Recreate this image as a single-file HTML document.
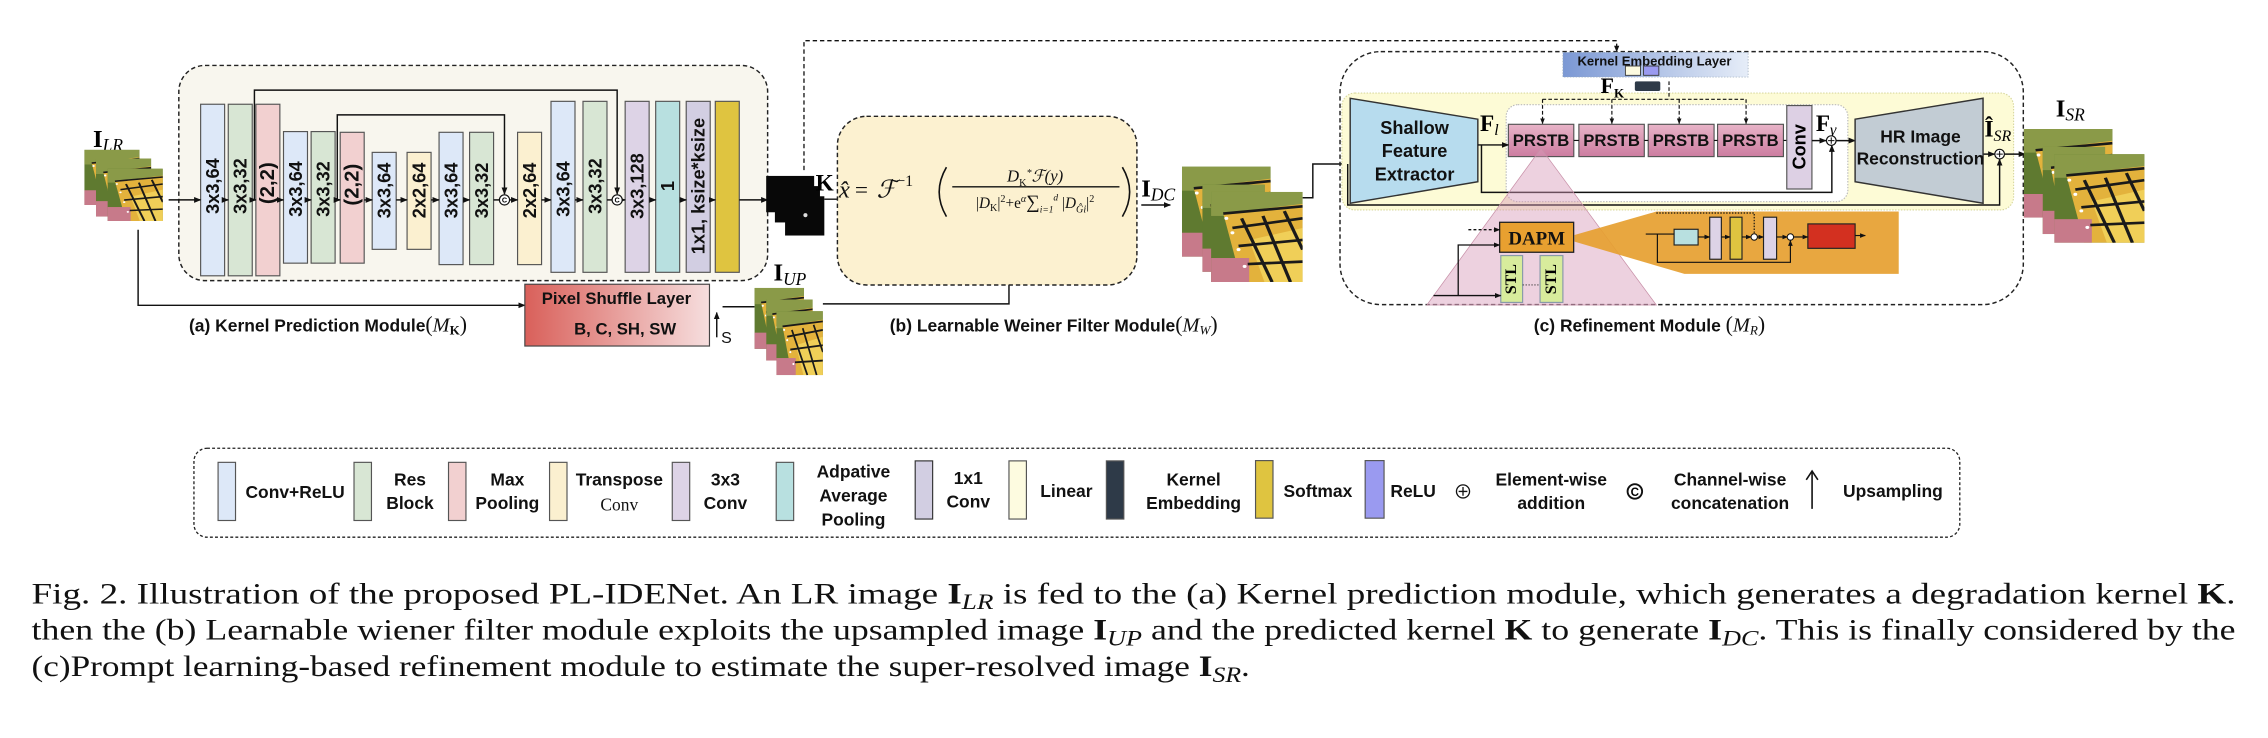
<!DOCTYPE html>
<html><head><meta charset="utf-8"><style>
html,body{margin:0;padding:0;background:#fff;}
svg{display:block;}
.b{font-family:"Liberation Sans",sans-serif;font-weight:bold;}
.s{font-family:"Liberation Serif",serif;}
</style></head><body>
<svg width="2268" height="738" viewBox="0 0 1560 507.6" preserveAspectRatio="none" xmlns="http://www.w3.org/2000/svg">
<defs>
<marker id="ar" viewBox="0 0 10 10" refX="9" refY="5" markerWidth="5" markerHeight="5" orient="auto"><path d="M0,1 L10,5 L0,9 z" fill="#111"/></marker>
<symbol id="bf" viewBox="0 0 60 75" preserveAspectRatio="none">
<rect width="60" height="75" fill="#5f7a30"/>
<rect x="0" y="0" width="60" height="20" fill="#8a9a48"/>
<polygon points="8,18 60,10 60,75 20,75" fill="#e3b23c"/>
<polygon points="25,40 60,30 60,75 35,75" fill="#f0cf58"/>
<rect x="0" y="55" width="25" height="20" fill="#c77a8a"/>
<g stroke="#1a1a1a" stroke-width="2.2" fill="none">
<path d="M8,18 L60,12"/><path d="M14,30 L60,22"/><path d="M18,45 L60,40"/><path d="M24,60 L60,58"/>
<path d="M20,22 L40,75"/><path d="M34,20 L52,75"/><path d="M48,16 L60,48"/>
</g>
<g fill="#fff"><circle cx="10" cy="22" r="1.3"/><circle cx="14" cy="34" r="1.3"/><circle cx="18" cy="48" r="1.3"/><circle cx="22" cy="62" r="1.3"/></g>
</symbol>
<linearGradient id="psg" x1="0" x2="1"><stop offset="0" stop-color="#d9605a"/><stop offset="1" stop-color="#f6dede"/></linearGradient>
<linearGradient id="keg" x1="0" x2="1"><stop offset="0" stop-color="#7b98d4"/><stop offset="1" stop-color="#e6edf8"/></linearGradient>
<linearGradient id="prg" x1="0" y1="0" x2="0" y2="1"><stop offset="0" stop-color="#e8b4c8"/><stop offset="1" stop-color="#cc7ca0"/></linearGradient>
</defs>

<!-- ===== (a) ===== -->
<rect x="123" y="45" width="405" height="148" rx="18" fill="#f8f6ee" stroke="#222" stroke-width="1" stroke-dasharray="3,2"/>
<g stroke="#555" stroke-width="0.8">
<rect x="138" y="71.7" width="16.5" height="118" fill="#dde8f8"/>
<rect x="157" y="71.7" width="16.5" height="118" fill="#d8e6d4"/>
<rect x="176" y="71.7" width="16.5" height="118" fill="#f2d0d0"/>
<rect x="195" y="90.5" width="16.5" height="90.5" fill="#dde8f8"/>
<rect x="214" y="90.5" width="16.5" height="90.5" fill="#d8e6d4"/>
<rect x="234" y="91" width="16.5" height="90" fill="#f2d0d0"/>
<rect x="256" y="104.8" width="16.5" height="66.7" fill="#dde8f8"/>
<rect x="280" y="104.8" width="16.5" height="66.7" fill="#fbf0d0"/>
<rect x="302" y="91" width="16.5" height="91" fill="#dde8f8"/>
<rect x="323" y="91" width="16.5" height="91" fill="#d8e6d4"/>
<rect x="356" y="91" width="16.5" height="91" fill="#fbf0d0"/>
<rect x="379" y="69.7" width="16.5" height="117.6" fill="#dde8f8"/>
<rect x="401" y="69.7" width="16.5" height="117.6" fill="#d8e6d4"/>
<rect x="430" y="69.7" width="16.5" height="117.6" fill="#ddd3e6"/>
<rect x="451" y="69.7" width="16.5" height="117.6" fill="#b8e0e0"/>
<rect x="472" y="69.7" width="16.5" height="117.6" fill="#d2cee2"/>
<rect x="492" y="69.7" width="16.5" height="117.6" fill="#dfc440"/>
</g>
<g class="b" font-size="12.5" fill="#111" text-anchor="middle" dominant-baseline="central">
<text transform="translate(146.5,128) rotate(-90)">3x3,64</text>
<text transform="translate(165.5,128) rotate(-90)">3x3,32</text>
<text transform="translate(184.5,126) rotate(-90)" font-size="14">(2,2)</text>
<text transform="translate(203.5,130) rotate(-90)">3x3,64</text>
<text transform="translate(222.5,130) rotate(-90)">3x3,32</text>
<text transform="translate(242.5,127) rotate(-90)" font-size="14">(2,2)</text>
<text transform="translate(264.5,131) rotate(-90)">3x3,64</text>
<text transform="translate(288.5,131) rotate(-90)">2x2,64</text>
<text transform="translate(310.5,131) rotate(-90)">3x3,64</text>
<text transform="translate(331.5,131) rotate(-90)">3x3,32</text>
<text transform="translate(364.5,131) rotate(-90)">2x2,64</text>
<text transform="translate(387.5,130) rotate(-90)">3x3,64</text>
<text transform="translate(409.5,128) rotate(-90)">3x3,32</text>
<text transform="translate(438.5,128) rotate(-90)">3x3,128</text>
<text transform="translate(459.5,128) rotate(-90)">1</text>
<text transform="translate(480.5,128) rotate(-90)">1x1, ksize*ksize</text>
</g>
<g stroke="#111" stroke-width="1" fill="none" marker-end="url(#ar)">
<line x1="116" y1="137.5" x2="138" y2="137.5"/>
<line x1="154.5" y1="137.5" x2="157" y2="137.5"/>
<line x1="173.5" y1="137.5" x2="176" y2="137.5"/>
<line x1="192.5" y1="137.5" x2="195" y2="137.5"/>
<line x1="211.5" y1="137.5" x2="214" y2="137.5"/>
<line x1="230.5" y1="137.5" x2="234" y2="137.5"/>
<line x1="250.5" y1="137.5" x2="256" y2="137.5"/>
<line x1="272.5" y1="137.5" x2="280" y2="137.5"/>
<line x1="296.5" y1="137.5" x2="302" y2="137.5"/>
<line x1="318.5" y1="137.5" x2="323" y2="137.5"/>
<line x1="350.5" y1="137.5" x2="356" y2="137.5"/>
<line x1="372.5" y1="137.5" x2="379" y2="137.5"/>
<line x1="395.5" y1="137.5" x2="401" y2="137.5"/>
<line x1="427.5" y1="137.5" x2="430" y2="137.5"/>
<line x1="446.5" y1="137.5" x2="451" y2="137.5"/>
<line x1="467.5" y1="137.5" x2="472" y2="137.5"/>
<line x1="488.5" y1="137.5" x2="492" y2="137.5"/>
<line x1="508.5" y1="137.5" x2="528" y2="137.5"/>
<polyline points="175,137 175,62 424.5,62 424.5,133.5"/>
<polyline points="232,137 232,79 347,79 347,133.5"/>
</g>
<line x1="339.5" y1="137.5" x2="343.5" y2="137.5" stroke="#111"/>
<line x1="417.5" y1="137.5" x2="421" y2="137.5" stroke="#111"/>
<g fill="#fff" stroke="#111" stroke-width="0.8"><circle cx="347" cy="137.5" r="3.5"/><circle cx="424.5" cy="137.5" r="3.5"/></g>
<g font-family="Liberation Sans" font-size="5" font-weight="bold" text-anchor="middle"><text x="347" y="139.3">C</text><text x="424.5" y="139.3">C</text></g>

<!-- I_LR -->
<text x="64" y="101" class="s" font-weight="bold" font-size="17">I<tspan font-style="italic" font-weight="normal" font-size="12" dy="3">LR</tspan></text>
<use href="#bf" x="58" y="103" width="38" height="38"/>
<use href="#bf" x="66" y="109" width="38" height="40"/>
<use href="#bf" x="74" y="116" width="38" height="36"/>
<polyline points="95,158 95,210 361,210" fill="none" stroke="#111" stroke-width="1" marker-end="url(#ar)"/>
<!-- Pixel shuffle -->
<rect x="361" y="195.5" width="127" height="42.5" fill="url(#psg)" stroke="#444" stroke-width="0.8"/>
<text x="424" y="209" class="b" font-size="11.5" text-anchor="middle" fill="#111">Pixel Shuffle Layer</text>
<text x="430" y="230" class="b" font-size="11.5" text-anchor="middle" fill="#111">B, C, SH, SW</text>
<line x1="493" y1="232" x2="493" y2="215" stroke="#111" stroke-width="1" marker-end="url(#ar)"/>
<text x="496" y="236" font-family="Liberation Sans" font-size="11" fill="#111">S</text>
<line x1="497" y1="211" x2="519" y2="211" stroke="#111" stroke-width="1"/>
<text x="130" y="228" class="b" font-size="12" fill="#111">(a) Kernel Prediction Module<tspan class="s" font-weight="normal" font-size="15">(</tspan><tspan class="s" font-style="italic" font-weight="normal" font-size="14">M</tspan><tspan class="s" font-size="9" dy="2">K</tspan><tspan class="s" font-weight="normal" font-size="15" dy="-2">)</tspan></text>

<!-- kernel images -->
<rect x="527" y="121" width="33" height="25" fill="#080808"/>
<rect x="533" y="128" width="31" height="25" fill="#080808"/>
<rect x="540" y="135" width="27" height="27" fill="#080808"/>
<circle cx="554" cy="148" r="1.4" fill="#ddd"/>
<text x="561" y="131" class="s" font-weight="bold" font-size="16">K</text>
<line x1="567" y1="137" x2="595" y2="137" stroke="#111" stroke-width="1" marker-end="url(#ar)"/>
<polyline points="553,117 553,28 1112,28 1112,35.5" fill="none" stroke="#111" stroke-width="0.9" stroke-dasharray="3,2" marker-end="url(#ar)"/>

<!-- I_UP -->
<text x="532" y="193" class="s" font-weight="bold" font-size="17">I<tspan font-style="italic" font-weight="normal" font-size="12" dy="3">UP</tspan></text>
<use href="#bf" x="519" y="198" width="34" height="42"/>
<use href="#bf" x="527" y="206" width="32" height="42"/>
<use href="#bf" x="534" y="214" width="32" height="44"/>
<polyline points="566,209 694,209 694,177" fill="none" stroke="#111" stroke-width="1" marker-end="url(#ar)"/>

<!-- (b) -->
<rect x="576" y="80" width="206" height="116" rx="20" fill="#fcf1d0" stroke="#222" stroke-width="1" stroke-dasharray="3,2"/>
<g class="s" fill="#111">
<text x="577" y="136" font-size="17" font-style="italic">x̂</text>
<text x="588" y="136" font-size="16">=</text>
<text x="603" y="136" font-size="17" font-style="italic">ℱ<tspan font-size="11" font-style="normal" dy="-8">−1</tspan></text>
<path d="M651,115 Q641,132 651,149" fill="none" stroke="#111" stroke-width="1.1"/>
<path d="M772,115 Q782,132 772,149" fill="none" stroke="#111" stroke-width="1.1"/>
<line x1="655" y1="128.5" x2="770" y2="128.5" stroke="#111" stroke-width="1"/>
<text x="712" y="125" font-size="11.5" text-anchor="middle" font-style="italic">D<tspan font-size="7" dy="3" font-style="normal">K</tspan><tspan font-size="7" dy="-7">*</tspan><tspan dy="4">ℱ(y)</tspan></text>
<text x="712" y="143" font-size="10.5" text-anchor="middle">|<tspan font-style="italic">D</tspan><tspan font-size="7" dy="2">K</tspan><tspan dy="-2">|</tspan><tspan font-size="7" dy="-4">2</tspan><tspan dy="4">+e</tspan><tspan font-size="7" dy="-4" font-style="italic">α</tspan><tspan dy="4" font-size="13">∑</tspan><tspan font-size="6.5" dy="3" font-style="italic">i=1</tspan><tspan font-size="6.5" dy="-8" font-style="italic">d</tspan><tspan dy="5"> |</tspan><tspan font-style="italic">D</tspan><tspan font-size="7" dy="3" font-style="italic">Ĝi</tspan><tspan dy="-3">|</tspan><tspan font-size="7" dy="-4">2</tspan></text>
</g>
<text x="785" y="135" class="s" font-weight="bold" font-size="17">I<tspan font-style="italic" font-weight="normal" font-size="12" dy="3">DC</tspan></text>
<line x1="785" y1="141" x2="805" y2="141" stroke="#111" stroke-width="1" marker-end="url(#ar)"/>
<text x="612" y="228" class="b" font-size="12" fill="#111">(b) Learnable Weiner Filter  Module<tspan class="s" font-weight="normal" font-size="15">(</tspan><tspan class="s" font-style="italic" font-weight="normal" font-size="14">M</tspan><tspan class="s" font-style="italic" font-weight="normal" font-size="9" dy="2">W</tspan><tspan class="s" font-weight="normal" font-size="15" dy="-2">)</tspan></text>
<use href="#bf" x="813" y="114.6" width="61" height="62"/>
<use href="#bf" x="827" y="127" width="43" height="60"/>
<use href="#bf" x="833" y="132" width="63" height="62"/>
<polyline points="896,136 903,136 903,112.8 928,112.8" fill="none" stroke="#111" stroke-width="1" marker-end="url(#ar)"/>

<!-- (c) -->
<rect x="921.7" y="35.5" width="470" height="174" rx="28" fill="none" stroke="#222" stroke-width="1" stroke-dasharray="3,2"/>
<rect x="923" y="64" width="462" height="80.4" rx="9" fill="#fdfbd6" stroke="#d8d8a0" stroke-width="0.8" stroke-dasharray="1,1"/>
<polygon points="928.7,67.6 1016.5,82 1016.5,125 928.7,139.8" fill="#b7dcee" stroke="#333" stroke-width="1"/>
<g class="b" font-size="12.5" text-anchor="middle" fill="#111"><text x="973" y="92">Shallow</text><text x="973" y="108">Feature</text><text x="973" y="124">Extractor</text></g>
<text x="1018" y="90" class="s" font-weight="bold" font-size="16">F<tspan font-style="italic" font-weight="normal" font-size="11" dy="3">l</tspan></text>
<rect x="1036" y="72" width="235" height="66.7" rx="8" fill="#fff" stroke="#bbb" stroke-width="0.8" stroke-dasharray="1,1"/>
<g stroke="#555" stroke-width="0.8" fill="url(#prg)">
<rect x="1037.5" y="85.5" width="45" height="22.2"/><rect x="1086" y="85.5" width="45" height="22.2"/><rect x="1133.7" y="85.5" width="45.3" height="22.2"/><rect x="1181.4" y="85.5" width="45.3" height="22.2"/>
</g>
<g class="b" font-size="11.5" text-anchor="middle" fill="#111"><text x="1060" y="100.5">PRSTB</text><text x="1108.5" y="100.5">PRSTB</text><text x="1156.3" y="100.5">PRSTB</text><text x="1204" y="100.5">PRSTB</text></g>
<g stroke="#111" stroke-width="0.8"><line x1="1082.5" y1="96.6" x2="1086" y2="96.6"/><line x1="1131" y1="96.6" x2="1133.7" y2="96.6"/><line x1="1179" y1="96.6" x2="1181.4" y2="96.6"/><line x1="1226.7" y1="96.6" x2="1229" y2="96.6"/></g>
<rect x="1229" y="72.6" width="17.3" height="57.4" fill="#ddd0e4" stroke="#555" stroke-width="0.8"/>
<text transform="translate(1237.6,101) rotate(-90)" class="b" font-size="12.5" text-anchor="middle" dominant-baseline="central">Conv</text>
<text x="1249" y="90" class="s" font-weight="bold" font-size="16">F<tspan font-style="italic" font-weight="normal" font-size="11" dy="3">γ</tspan></text>
<g stroke="#111" stroke-width="1" fill="none">
<line x1="1016.5" y1="99.7" x2="1037.5" y2="99.7" marker-end="url(#ar)"/>
<polyline points="1019,99.7 1019,132.3 1260,132.3 1260,100" marker-end="url(#ar)"/>
<line x1="1246.3" y1="96.7" x2="1256" y2="96.7" marker-end="url(#ar)"/>
<line x1="1263" y1="96.7" x2="1276" y2="96.7" marker-end="url(#ar)"/>
<polyline points="927,112.8 927,141 1375.4,141 1375.4,109.5" marker-end="url(#ar)"/>
<line x1="1364" y1="106" x2="1372" y2="106" marker-end="url(#ar)"/>
<line x1="1379" y1="106" x2="1393" y2="106" marker-end="url(#ar)"/>
</g>
<g fill="#fff" stroke="#111" stroke-width="0.8"><circle cx="1259.6" cy="96.7" r="3.3"/><circle cx="1375.4" cy="106" r="3.3"/></g>
<g stroke="#111" stroke-width="0.7"><path d="M1257.4,96.7h4.4M1259.6,94.5v4.4M1373.2,106h4.4M1375.4,103.8v4.4"/></g>
<polygon points="1276,82 1364,67.6 1364,139.8 1276,125" fill="#c2ccd4" stroke="#333" stroke-width="1"/>
<g class="b" font-size="12" text-anchor="middle" fill="#111"><text x="1321" y="98">HR Image</text><text x="1321" y="113">Reconstruction</text></g>
<text x="1365" y="94" class="s" font-weight="bold" font-size="16">Î<tspan font-style="italic" font-weight="normal" font-size="11" dy="3">SR</tspan></text>
<text x="1414" y="80" class="s" font-weight="bold" font-size="17">I<tspan font-style="italic" font-weight="normal" font-size="12" dy="3">SR</tspan></text>
<use href="#bf" x="1392" y="88.7" width="61" height="61"/>
<use href="#bf" x="1405" y="101" width="43" height="60"/>
<use href="#bf" x="1413" y="106" width="62" height="61"/>

<!-- kernel embedding layer -->
<rect x="1075" y="36" width="127.4" height="17" fill="url(#keg)" stroke="#9ab" stroke-width="0.5" stroke-dasharray="1,1"/>
<text x="1138" y="45" class="b" font-size="9" text-anchor="middle" fill="#111" font-weight="normal">Kernel Embedding Layer</text>
<rect x="1118" y="45.4" width="10.4" height="6.4" fill="#fdfbe0" stroke="#333" stroke-width="0.6"/>
<rect x="1130.5" y="45.4" width="10.5" height="6.4" fill="#9a9af0" stroke="#333" stroke-width="0.6"/>
<text x="1101" y="64" class="s" font-weight="bold" font-size="15">F<tspan font-size="9" dy="3">K</tspan></text>
<rect x="1124.5" y="56" width="17.5" height="6.6" rx="1.2" fill="#2e3a48"/>
<g stroke="#111" stroke-width="0.8" fill="none" stroke-dasharray="2.5,1.5">
<line x1="1148" y1="56" x2="1148" y2="68.3"/>
<line x1="1061" y1="68.3" x2="1201" y2="68.3"/>
<line x1="1061" y1="68.3" x2="1061" y2="85" marker-end="url(#ar)"/>
<line x1="1108.7" y1="68.3" x2="1108.7" y2="85" marker-end="url(#ar)"/>
<line x1="1155" y1="68.3" x2="1155" y2="85" marker-end="url(#ar)"/>
<line x1="1201" y1="68.3" x2="1201" y2="85" marker-end="url(#ar)"/>
</g>

<!-- pink triangle -->
<polygon points="1060,102 1139.3,209.8 981.4,209.8" fill="#d89ab8" fill-opacity="0.45" stroke="#c890a8" stroke-width="0.5"/>
<polygon points="1083,161.6 1139.3,145.5 1306,145.5 1306,188.4 1158.6,188.4 1083,166.2" fill="#e6a030" fill-opacity="0.92"/>
<rect x="1031.5" y="152.9" width="50.9" height="20.6" fill="#e8a030" stroke="#222" stroke-width="0.9"/>
<text x="1057" y="168" class="s" font-weight="bold" font-size="13" text-anchor="middle" fill="#111">DAPM</text>
<g stroke="#222" stroke-width="0.8">
<rect x="1032.3" y="175.8" width="15" height="32.2" fill="#d8ec9c" stroke="#89a"/>
<rect x="1059.3" y="175.8" width="15.7" height="32.2" fill="#d8ec9c" stroke="#89a"/>
</g>
<g class="s" font-weight="bold" font-size="11" text-anchor="middle" dominant-baseline="central"><text transform="translate(1039.8,192) rotate(-90)">STL</text><text transform="translate(1067.2,192) rotate(-90)">STL</text></g>
<line x1="1047.3" y1="196" x2="1059.3" y2="196" stroke="#333" stroke-width="0.6" stroke-dasharray="1,1"/>
<g stroke="#111" stroke-width="0.9" fill="none">
<line x1="1010" y1="158" x2="1031.5" y2="158" stroke-dasharray="2,1.5" marker-end="url(#ar)"/>
<polyline points="1003,203.3 1003,168.5 1031.5,168.5" marker-end="url(#ar)"/>
<line x1="986" y1="203.3" x2="1032.3" y2="203.3" marker-end="url(#ar)"/>
</g>
<!-- DAPM detail -->
<g stroke="#222" stroke-width="0.8">
<rect x="1151.5" y="157.7" width="16.5" height="10.8" fill="#b8e0e0"/>
<rect x="1176" y="149.4" width="8" height="28.9" fill="#ddd3e6"/>
<rect x="1190" y="149.4" width="8.2" height="28.9" fill="#dfc440"/>
<rect x="1213" y="149.4" width="9" height="28.9" fill="#ddd3e6"/>
<rect x="1243.5" y="154" width="32.5" height="16.8" fill="#d33020"/>
</g>
<g stroke="#111" stroke-width="0.8" fill="none">
<line x1="1132" y1="161" x2="1151.5" y2="161"/>
<line x1="1168" y1="163" x2="1176" y2="163" marker-end="url(#ar)"/>
<line x1="1184" y1="163" x2="1190" y2="163" marker-end="url(#ar)"/>
<line x1="1198.2" y1="163" x2="1204.5" y2="163" marker-end="url(#ar)"/>
<line x1="1208.7" y1="163" x2="1213" y2="163" marker-end="url(#ar)"/>
<line x1="1222" y1="163" x2="1229.5" y2="163" marker-end="url(#ar)"/>
<line x1="1233.5" y1="163" x2="1243.5" y2="163" marker-end="url(#ar)"/>
<line x1="1276" y1="162" x2="1283" y2="162" marker-end="url(#ar)"/>
<polyline points="1140,161 1140,180.4 1231.5,180.4 1231.5,165.5" marker-end="url(#ar)"/>
<polyline points="1139.3,146.5 1206.6,146.5 1206.6,161" stroke-dasharray="1,1"/>
</g>
<g fill="#fff" stroke="#111" stroke-width="0.7"><circle cx="1206.6" cy="163" r="2.2"/><circle cx="1231.5" cy="163" r="2.2"/></g>
<text x="1055" y="228" class="b" font-size="12" fill="#111">(c) Refinement Module <tspan class="s" font-weight="normal" font-size="15">(</tspan><tspan class="s" font-style="italic" font-weight="normal" font-size="14">M</tspan><tspan class="s" font-style="italic" font-weight="normal" font-size="9" dy="2">R</tspan><tspan class="s" font-weight="normal" font-size="15" dy="-2">)</tspan></text>

<!-- ===== Legend ===== -->
<rect x="133.4" y="308.3" width="1214.6" height="61.2" rx="9" fill="none" stroke="#222" stroke-width="0.9" stroke-dasharray="2,1.5"/>
<g stroke="#555" stroke-width="0.8">
<rect x="150" y="318" width="12" height="40" fill="#dde8f8"/>
<rect x="243.5" y="318" width="12" height="40" fill="#d8e6d4"/>
<rect x="308.5" y="318" width="12" height="40" fill="#f2d0d0"/>
<rect x="378" y="318" width="12" height="40" fill="#fbf0d0"/>
<rect x="462.4" y="318" width="12" height="40" fill="#ddd3e6"/>
<rect x="533.9" y="318" width="12" height="40" fill="#b8e0e0"/>
<rect x="629.5" y="317" width="12" height="40" fill="#d2cee2" stroke="#333"/>
<rect x="694" y="317" width="12" height="40" fill="#fdfbe0"/>
<rect x="761" y="317" width="12" height="40" fill="#2e3a48"/>
<rect x="863.6" y="316.8" width="12" height="39.6" fill="#dfc440"/>
<rect x="939" y="316.8" width="13" height="39.6" fill="#9a9af0"/>
</g>
<g class="b" font-size="12" text-anchor="middle" fill="#111">
<text x="203" y="342.5">Conv+ReLU</text>
<text x="282" y="334">Res</text><text x="282" y="350">Block</text>
<text x="349" y="334">Max</text><text x="349" y="350">Pooling</text>
<text x="426" y="334">Transpose</text><text x="426" y="351" class="s" font-weight="normal">Conv</text>
<text x="499" y="334">3x3</text><text x="499" y="350">Conv</text>
<text x="587" y="328.5">Adpative</text><text x="587" y="345">Average</text><text x="587" y="361.5">Pooling</text>
<text x="666" y="333">1x1</text><text x="666" y="349">Conv</text>
<text x="733.5" y="342">Linear</text>
<text x="821" y="334">Kernel</text><text x="821" y="350">Embedding</text>
<text x="906.5" y="342">Softmax</text>
<text x="972" y="342">ReLU</text>
<text x="1067" y="334">Element-wise</text><text x="1067" y="350">addition</text>
<text x="1190" y="334">Channel-wise</text><text x="1190" y="350">concatenation</text>
<text x="1302" y="342">Upsampling</text>
</g>
<g fill="#fff" stroke="#111" stroke-width="0.9"><circle cx="1006.3" cy="338" r="4.5"/></g>
<path d="M1003.3,338h6M1006.3,335v6" stroke="#111" stroke-width="0.9"/>
<circle cx="1124.5" cy="338" r="5" fill="none" stroke="#111" stroke-width="1.3"/>
<text x="1124.5" y="341" font-family="Liberation Sans" font-weight="bold" font-size="8" text-anchor="middle">C</text>
<line x1="1246.4" y1="350" x2="1246.4" y2="325" stroke="#111" stroke-width="1.1"/>
<path d="M1242.4,330 L1246.4,324 L1250.4,330" fill="none" stroke="#111" stroke-width="1.1"/>

<!-- ===== Caption ===== -->
<g class="s" font-size="20.5" fill="#111">
<text x="21.7" y="415" textLength="1516" lengthAdjust="spacingAndGlyphs">Fig. 2.   Illustration of the proposed PL-IDENet. An LR image <tspan font-weight="bold">I</tspan><tspan font-style="italic" font-size="15" dy="4">LR</tspan><tspan dy="-4"> is fed to the (a) Kernel prediction module, which generates a degradation kernel </tspan><tspan font-weight="bold">K</tspan>.</text>
<text x="21.7" y="440" textLength="1516" lengthAdjust="spacingAndGlyphs">then the (b) Learnable wiener filter module exploits the upsampled image <tspan font-weight="bold">I</tspan><tspan font-style="italic" font-size="15" dy="4">UP</tspan><tspan dy="-4"> and the predicted kernel </tspan><tspan font-weight="bold">K</tspan> to generate <tspan font-weight="bold">I</tspan><tspan font-style="italic" font-size="15" dy="4">DC</tspan><tspan dy="-4">. This is finally considered by the</tspan></text>
<text x="21.7" y="465" textLength="838" lengthAdjust="spacingAndGlyphs">(c)Prompt learning-based refinement module to estimate the super-resolved image <tspan font-weight="bold">I</tspan><tspan font-style="italic" font-size="15" dy="4">SR</tspan><tspan dy="-4">.</tspan></text>
</g>
</svg>
</body></html>
